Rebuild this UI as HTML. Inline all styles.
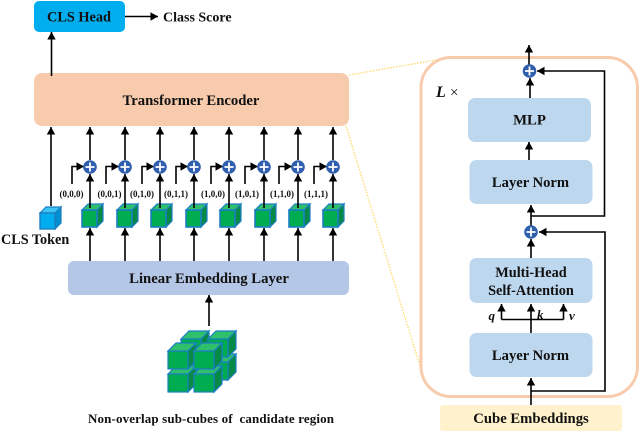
<!DOCTYPE html>
<html><head><meta charset="utf-8"><style>
html,body{margin:0;padding:0;background:#fff}
svg{display:block}
text{font-family:"Liberation Serif",serif;font-weight:bold;fill:#111}
</style></head><body>
<svg width="640" height="431" viewBox="0 0 640 431" xmlns="http://www.w3.org/2000/svg">
<defs>
<marker id="a" markerUnits="userSpaceOnUse" markerWidth="10" markerHeight="10" refX="7.5" refY="4.5" orient="auto"><path d="M0,0.300 L7.500,4.500 L0,8.700 Z" fill="#000"/></marker>
<g id="p"><circle r="6.8" fill="#2f5fae"/><path d="M-4.500,0H4.500M0,-4.500V4.500" stroke="#fff" stroke-width="1.800"/></g>
<g id="c">
<path d="M0,0 L6,-6 H21 L15,0 Z" fill="#2fc06c" stroke="#1c7fc4" stroke-width="1.200"/>
<path d="M15,0 L21,-6 V11 L15,17 Z" fill="#078a45" stroke="#1c7fc4" stroke-width="1.200"/>
<rect width="15" height="17" fill="#00ac50" stroke="#1c7fc4" stroke-width="1.600"/>
</g>
<g id="t">
<path d="M0,0 L6,-6 H21 L15,0 Z" fill="#3cc4f5" stroke="#1c7fc4" stroke-width="1.200"/>
<path d="M15,0 L21,-6 V10 L15,16 Z" fill="#0090d0" stroke="#1c7fc4" stroke-width="1.200"/>
<rect width="15" height="16" fill="#00aeef" stroke="#1c7fc4" stroke-width="1.400"/>
</g>
<g id="b">
<path d="M0,0 L8,-8 H28 L20,0 Z" fill="#2fc06c" stroke="#1c7fc4" stroke-width="1.200"/>
<path d="M20,0 L28,-8 V10 L20,18 Z" fill="#078a45" stroke="#1c7fc4" stroke-width="1.200"/>
<rect width="20" height="18" fill="#00ac50" stroke="#1c7fc4" stroke-width="1.200"/>
</g>
</defs>

<!-- dotted callouts -->
<path d="M349,75 L447,58" stroke="#ffd966" stroke-width="1.300" stroke-dasharray="1.500 1.500" fill="none"/>
<path d="M346,126 L420,366" stroke="#ffd966" stroke-width="1.300" stroke-dasharray="1.500 1.500" fill="none"/>

<!-- left boxes -->
<rect x="34" y="1" width="91" height="31" rx="5" fill="#00aeef"/>
<text x="79" y="21.500" font-size="14.300" text-anchor="middle">CLS Head</text>
<path d="M125,16.500 H158" stroke="#000" stroke-width="1.600" marker-end="url(#a)"/>
<text x="163" y="21.500" font-size="14">Class Score</text>
<rect x="34" y="73" width="315" height="53" rx="8" fill="#f8cbad"/>
<text x="191" y="105" font-size="14.700" text-anchor="middle">Transformer Encoder</text>
<path d="M51.500,76 V32" stroke="#000" stroke-width="1.600" marker-end="url(#a)"/>
<path d="M51,206 V127" stroke="#000" stroke-width="1.600" marker-end="url(#a)"/>
<use href="#t" x="40" y="213"/>
<text x="1" y="244" font-size="14.200">CLS Token</text>

<rect x="68" y="261" width="281" height="34" rx="6" fill="#b4c7e7"/>
<text x="209" y="283" font-size="14.700" text-anchor="middle">Linear Embedding Layer</text>

<!-- columns -->
<g stroke="#000" stroke-width="1.600" fill="none">
<path d="M90,160 V127" marker-end="url(#a)"/><path d="M125,160 V127" marker-end="url(#a)"/><path d="M160,160 V127" marker-end="url(#a)"/><path d="M194,160 V127" marker-end="url(#a)"/><path d="M229,160 V127" marker-end="url(#a)"/><path d="M264,160 V127" marker-end="url(#a)"/><path d="M298,160 V127" marker-end="url(#a)"/><path d="M333,160 V127" marker-end="url(#a)"/>
<path d="M90,261 V228" marker-end="url(#a)"/><path d="M125,261 V228" marker-end="url(#a)"/><path d="M160,261 V228" marker-end="url(#a)"/><path d="M194,261 V228" marker-end="url(#a)"/><path d="M229,261 V228" marker-end="url(#a)"/><path d="M264,261 V228" marker-end="url(#a)"/><path d="M298,261 V228" marker-end="url(#a)"/><path d="M333,261 V228" marker-end="url(#a)"/>
<path d="M72,184 V166.500 H84" marker-end="url(#a)"/><path d="M106,184 V166.500 H119" marker-end="url(#a)"/><path d="M142,184 V166.500 H154" marker-end="url(#a)"/><path d="M176,184 V166.500 H188" marker-end="url(#a)"/><path d="M211,184 V166.500 H223" marker-end="url(#a)"/><path d="M245,184 V166.500 H258" marker-end="url(#a)"/><path d="M279,184 V166.500 H292" marker-end="url(#a)"/><path d="M314,184 V166.500 H327" marker-end="url(#a)"/>
</g>
<use href="#c" x="82" y="210"/><use href="#c" x="117" y="210"/><use href="#c" x="151" y="210"/><use href="#c" x="186" y="210"/><use href="#c" x="220" y="210"/><use href="#c" x="255" y="210"/><use href="#c" x="289" y="210"/><use href="#c" x="323" y="210"/>
<g stroke="#000" stroke-width="1.600" fill="none">
<path d="M90,208 V174" marker-end="url(#a)"/><path d="M125,208 V174" marker-end="url(#a)"/><path d="M160,208 V174" marker-end="url(#a)"/><path d="M194,208 V174" marker-end="url(#a)"/><path d="M229,208 V174" marker-end="url(#a)"/><path d="M264,208 V174" marker-end="url(#a)"/><path d="M298,208 V174" marker-end="url(#a)"/><path d="M333,208 V174" marker-end="url(#a)"/>
</g>
<use href="#p" x="90" y="167"/><use href="#p" x="125" y="167"/><use href="#p" x="160" y="167"/><use href="#p" x="194" y="167"/><use href="#p" x="229" y="167"/><use href="#p" x="264" y="167"/><use href="#p" x="298" y="167"/><use href="#p" x="333" y="167"/>
<g text-anchor="middle">
<text x="71.500" y="197" font-size="9">(0,0,0)</text><text x="109.500" y="197" font-size="9">(0,0,1)</text><text x="142" y="197" font-size="9">(0,1,0)</text><text x="176" y="197" font-size="9">(0,1,1)</text><text x="213" y="197" font-size="9">(1,0,0)</text><text x="247" y="197" font-size="9">(1,0,1)</text><text x="282" y="197" font-size="9">(1,1,0)</text><text x="316" y="197" font-size="9">(1,1,1)</text>
</g>

<!-- cube stack -->
<path d="M209,326 V295" stroke="#000" stroke-width="1.600" marker-end="url(#a)"/>
<use href="#b" x="181" y="362"/><use href="#b" x="208" y="362"/>
<use href="#b" x="181" y="339"/><use href="#b" x="208" y="339"/>
<use href="#b" x="168" y="374"/><use href="#b" x="194" y="374"/>
<use href="#b" x="168" y="351"/><use href="#b" x="194" y="351"/>
<text x="88" y="423" font-size="13" xml:space="preserve" textLength="246">Non-overlap sub-cubes of  candidate region</text>

<!-- right panel -->
<rect x="421" y="57.500" width="216.500" height="339" rx="30" fill="#fff" stroke="#f8cbad" stroke-width="3"/>
<rect x="468" y="98" width="123" height="44" rx="7" fill="#bdd7ee"/>
<rect x="469.500" y="160" width="123" height="44" rx="7" fill="#bdd7ee"/>
<rect x="469.500" y="258" width="123" height="45" rx="7" fill="#bdd7ee"/>
<rect x="469.500" y="333" width="123" height="44" rx="7" fill="#bdd7ee"/>
<rect x="440" y="405" width="182" height="26" rx="3" fill="#fff2cc"/>
<g text-anchor="middle">
<text x="529.500" y="124.500" font-size="14.800">MLP</text>
<text x="530.500" y="187" font-size="14.600">Layer Norm</text>
<text x="531" y="277" font-size="14.300">Multi-Head</text>
<text x="531" y="295" font-size="14.300">Self-Attention</text>
<text x="530.500" y="360" font-size="14.600">Layer Norm</text>
<text x="531" y="423" font-size="14.700">Cube Embeddings</text>
</g>
<text x="436" y="97" font-size="16" font-style="italic">L</text>
<text x="450" y="97" font-size="15" style="font-weight:normal">×</text>
<g font-size="13" font-style="italic">
<text x="488.500" y="320">q</text><text x="537" y="319">k</text><text x="569" y="320">v</text>
</g>
<g stroke="#000" stroke-width="1.600" fill="none">
<path d="M529,66 V45" marker-end="url(#a)"/>
<path d="M530,98 V78" marker-end="url(#a)"/>
<path d="M529,160 V142" marker-end="url(#a)"/>
<path d="M531,226 V205" marker-end="url(#a)"/>
<path d="M531,216 H604.500 V71 H537" marker-end="url(#a)"/>
<path d="M531,258 V239" marker-end="url(#a)"/>
<path d="M531,405 V378" marker-end="url(#a)"/>
<path d="M531,391 H605 V232 H539" marker-end="url(#a)"/>
<path d="M531,333 V304" marker-end="url(#a)"/>
<path d="M501.500,319.500 H563.500"/>
<path d="M501.500,319.500 V304" marker-end="url(#a)"/>
<path d="M563.500,319.500 V304" marker-end="url(#a)"/>
</g>
<use href="#p" x="529.500" y="71"/>
<use href="#p" x="531" y="232"/>
</svg>
</body></html>
